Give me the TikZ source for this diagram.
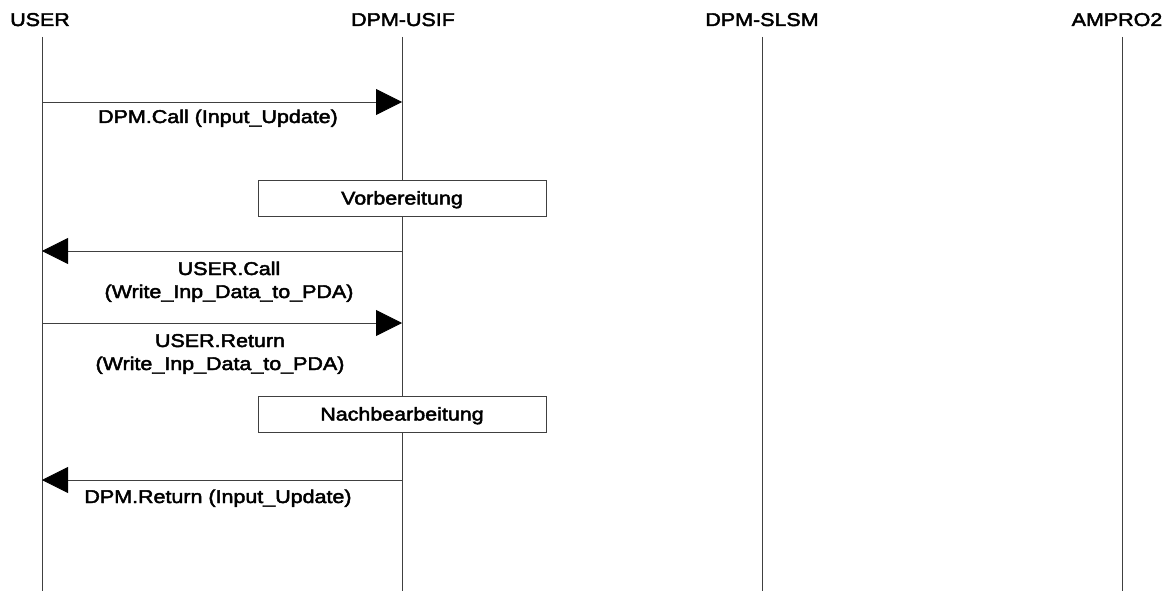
\documentclass[tikz,border=0pt]{standalone}
\usepackage{fontspec}
\setmainfont{Liberation Sans}[FakeStretch=1.16, FakeBold=2.5]
\usetikzlibrary{arrows.meta}
\begin{document}
\begin{tikzpicture}[x=1pt,y=-1pt,
  txt/.style={font=\fontsize{18.5}{23}\selectfont, inner sep=0pt, align=center},
  actor/.style={txt, anchor=base},
  lifeline/.style={draw=black!75, line width=0.8pt},
  msg/.style={draw=black!75, line width=0.8pt, -{Triangle[length=26pt,width=26pt,black]}},
  msglabel/.style={txt, anchor=base},
  activity/.style={draw=black!75, line width=0.8pt, fill=white, minimum width=288pt,
                   minimum height=36pt, inner sep=0pt, text height=13pt, text depth=0pt,
                   font=\fontsize{18.5}{23}\selectfont}]
  \useasboundingbox (0,0) rectangle (1170,591);

  % actors and their lifelines
  \node[actor] (user) at (40,26) {USER};
  \node[actor] (usif) at (403,26) {DPM-USIF};
  \node[actor] (slsm) at (762,26) {DPM-SLSM};
  \node[actor] (ampro) at (1117,26) {AMPRO2};

  \foreach \n/\x in {u/42, d/402, s/762, a/1122} {
    \coordinate (\n top) at (\x,37);
    \coordinate (\n bot) at (\x,591);
    \draw[lifeline] (\n top) -- (\n bot);
  }

  % message anchor points on the lifelines
  \coordinate (u1) at (42,102);  \coordinate (d1) at (402,102);
  \coordinate (u2) at (42,251);  \coordinate (d2) at (402,251);
  \coordinate (u3) at (42,323);  \coordinate (d3) at (402,323);
  \coordinate (u4) at (42,480);  \coordinate (d4) at (402,480);

  % messages (two-line labels are placed by the baseline of their last line)
  \draw[msg] (u1) -- (d1);
  \node[msglabel] (m1) at (218,123) {DPM.Call (Input\_Update)};

  \node[activity] (prep) at (402,198) {Vorbereitung};

  \draw[msg] (d2) -- (u2);
  \node[msglabel] (m2) at (229,298) {USER.Call\\(Write\_Inp\_Data\_to\_PDA)};

  \draw[msg] (u3) -- (d3);
  \node[msglabel] (m3) at (220,370) {USER.Return\\(Write\_Inp\_Data\_to\_PDA)};

  \node[activity] (post) at (402,414) {Nachbearbeitung};

  \draw[msg] (d4) -- (u4);
  \node[msglabel] (m4) at (218,503) {DPM.Return (Input\_Update)};
\end{tikzpicture}
\end{document}
